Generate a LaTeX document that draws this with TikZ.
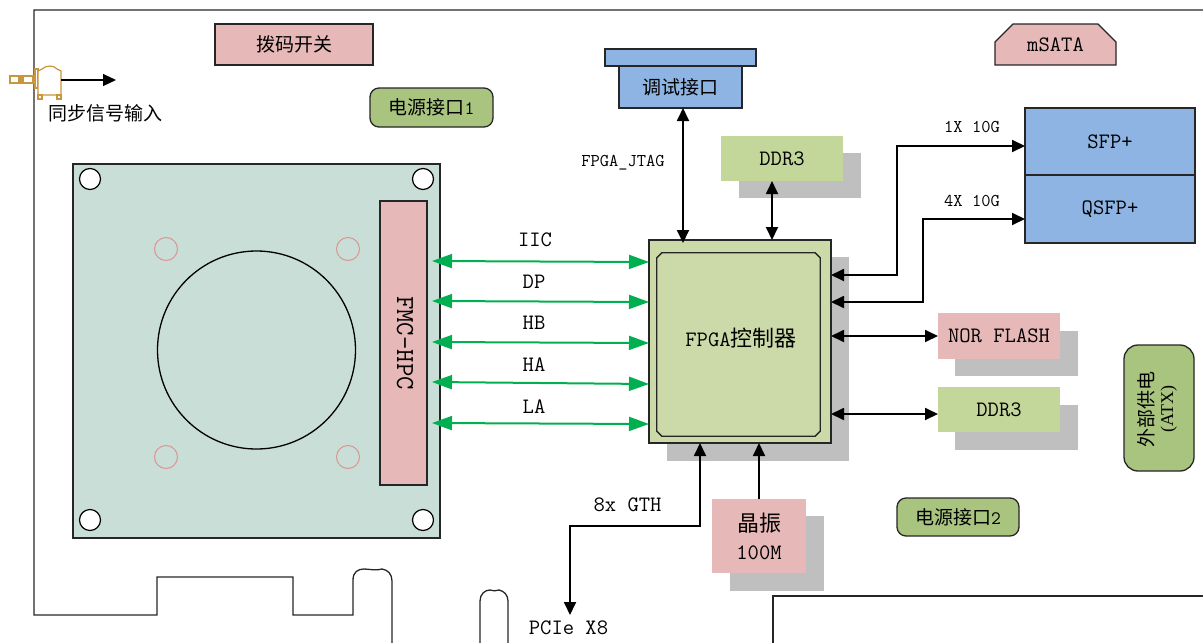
\documentclass[tikz,border=0pt]{standalone}
\usepackage{fontspec}
\setmainfont{Liberation Serif}
\newfontfamily\cjk{Noto Sans CJK SC}
\usetikzlibrary{arrows.meta,shapes.misc}
\definecolor{pinkf}{HTML}{E6B8B7}
\definecolor{greenf}{HTML}{C4D79B}
\definecolor{fpgaf}{HTML}{CCD9A8}
\definecolor{bluef}{HTML}{8DB4E2}
\definecolor{padf}{HTML}{A9C47F}
\definecolor{boardf}{HTML}{C9DED6}
\definecolor{shadowf}{HTML}{BFBFBF}
\definecolor{linec}{HTML}{262626}
\definecolor{goldc}{HTML}{C8963C}
\definecolor{ringc}{HTML}{D99694}
\definecolor{greenl}{HTML}{00B050}
\tikzset{
  x=1pt,y=-1pt,
  big/.style={font=\fontsize{22}{25}\selectfont\ttfamily},
  small/.style={font=\fontsize{19}{22}\selectfont\ttfamily},
  outl/.style={draw=linec,line width=1.3pt,inner sep=0pt,big},
  fl/.style={outl,draw=none},
  shadowbox/.style={fill=shadowf,draw=none,inner sep=0pt},
  padbox/.style={outl,fill=padf,rounded corners=9pt,small},
  arr/.style={black,line width=1.8pt,-{Triangle[length=13pt,width=12pt]}},
  barr/.style={black,line width=1.8pt,{Triangle[length=13pt,width=12pt]}-{Triangle[length=13pt,width=12pt]}},
  garr/.style={greenl,line width=2pt,{Triangle[length=20pt,width=14pt]}-{Triangle[length=20pt,width=14pt]}},
  lab/.style={inner sep=0pt,big},
  slab/.style={inner sep=0pt,font=\fontsize{18}{20}\selectfont\ttfamily},
  board/.style={draw=linec,line width=1.3pt},
  hole/.style={circle,draw=black,fill=white,line width=1.2pt,minimum size=21pt,inner sep=0pt},
  ring/.style={circle,draw=ringc,line width=1pt,minimum size=23pt,inner sep=0pt},
  gold/.style={draw=goldc,line width=1.2pt,fill=white},
}
\begin{document}
\begin{tikzpicture}
\useasboundingbox (0,0) rectangle (1203,643);
% board outline
\draw[board] (1203,10) -- (34,10) -- (34,615) -- (157,615) -- (157,577) -- (293,577) -- (293,615) -- (353,615) -- (353,580)
  .. controls (353,572) and (358,569) .. (364,569) .. controls (369,569) and (376,571) .. (382,569) .. controls (388,570) and (392,574) .. (392,581) -- (392,643);
\draw[board] (480,643) -- (480,601) .. controls (480,594) and (485,590) .. (490,590) .. controls (494,591) and (496,591) .. (499,590) .. controls (504,591) and (508,595) .. (508,601) -- (508,643);
\draw[board] (773,643) -- (773,596) -- (1203,596);
% shadows
\node[shadowbox,minimum width=182pt,minimum height=204pt] (sfpga) at (758,359) {};
\node[shadowbox,minimum width=122pt,minimum height=45pt] (sddr1) at (800,175.5) {};
\node[shadowbox,minimum width=123pt,minimum height=45pt] (snor) at (1016.5,353.5) {};
\node[shadowbox,minimum width=123pt,minimum height=45pt] (sddr2) at (1016.5,427.5) {};
\node[shadowbox,minimum width=94pt,minimum height=75pt] (sosc) at (777,553.5) {};
% FMC card
\node[draw=linec,fill=boardf,line width=1.3pt,inner sep=0pt,minimum width=367pt,minimum height=374pt] (card) at (256.5,351) {};
\foreach \n/\x/\y in {ha/90/179,hb/423/179,hc/90/520,hd/423/520} \node[hole] (\n) at (\x,\y) {};
\foreach \n/\x/\y in {ra/166/249,rb/348/249,rc/166/457,rd/348/457} \node[ring] (\n) at (\x,\y) {};
\node[circle,draw=black,line width=1.3pt,minimum size=198pt,inner sep=0pt] (lens) at (256.5,350) {};
\node[outl,fill=pinkf,minimum width=47pt,minimum height=284pt] (fmc) at (403.5,343) {};
\node[inner sep=0pt,font=\fontsize{26}{28}\selectfont\ttfamily,rotate=-90] (fmct) at (405,343) {FMC-HPC};
% top boxes
\node[outl,fill=pinkf,minimum width=158pt,minimum height=41pt,small] (dip) at (294,44.5) {{\cjk 拨码开关}};
\node[padbox,minimum width=123pt,minimum height=39pt] (pw1) at (431.5,107.5) {{\cjk 电源接口}1};
\node[padbox,minimum width=122pt,minimum height=38pt] (pw2) at (958,517) {{\cjk 电源接口}2};
\node[outl,fill=bluef,minimum width=151pt,minimum height=17pt] (dbgtop) at (680.5,57.5) {};
\node[outl,fill=bluef,minimum width=123pt,minimum height=42pt,small] (dbg) at (680.5,87) {{\cjk 调试接口}};
\node[outl,fill=pinkf,chamfered rectangle,chamfered rectangle corners={north west,north east},chamfered rectangle xsep=11pt,chamfered rectangle ysep=11pt,minimum width=121pt,minimum height=41pt] (msata) at (1055.5,44.5) {mSATA};
\node[fl,fill=greenf,minimum width=122pt,minimum height=45pt] (ddra) at (782,158.5) {DDR3};
\node[outl,fill=bluef,minimum width=170pt,minimum height=67pt] (sfp) at (1110,141.5) {SFP+};
\node[outl,fill=bluef,minimum width=170pt,minimum height=68pt] (qsfp) at (1110,209) {QSFP+};
% FPGA
\node[outl,fill=fpgaf,minimum width=182pt,minimum height=203pt] (fpga) at (740,341.5) {};
\node[inner sep=0pt,minimum width=163pt,minimum height=183pt] (fpgain) at (738.5,344.5) {};
\draw[linec,line width=1.3pt] ([xshift=5pt]fpgain.north west) -- ([xshift=-5pt]fpgain.north east) -- ([yshift=-5pt]fpgain.north east) -- ([yshift=5pt]fpgain.south east) -- ([xshift=-5pt]fpgain.south east) -- ([xshift=5pt]fpgain.south west) -- ([yshift=5pt]fpgain.south west) -- ([yshift=-5pt]fpgain.north west) -- cycle;
\node[lab] (fpgat) at (741,338) {FPGA{\cjk 控制器}};
% right boxes
\node[fl,fill=pinkf,minimum width=122pt,minimum height=46pt] (nor) at (999,336) {NOR FLASH};
\node[fl,fill=greenf,minimum width=122pt,minimum height=45pt] (ddrb) at (999,409.5) {DDR3};
\node[fl,fill=pinkf,minimum width=94pt,minimum height=74pt,align=center] (osc) at (759,536) {{\cjk 晶振}\\[3pt]100M};
\node[outl,fill=padf,rounded corners=14pt,minimum width=70pt,minimum height=126pt] (atx) at (1159,408) {};
\node[inner sep=0pt,rotate=90,align=center,font=\fontsize{19}{22}\selectfont] (atxt) at (1157,409) {{\cjk 外部供电}\\[-2pt]{\fontsize{18}{20}\selectfont(ATX)}};
% sync connector
\coordinate (synco) at (61,80);
\coordinate (syncend) at (116,80);
\draw[gold] (10,76) rectangle (33,83);
\draw[gold,fill=goldc] (19,76) rectangle (23,83);
\draw[gold] (35,69) rectangle (38,88);
\draw[gold] (38,71) -- (42,69) .. controls (46,65) and (54,65) .. (57,69) -- (61,71) -- (61,95) -- (38,95) -- cycle;
\draw[gold] (38,95) rectangle (42,99);
\draw[gold] (57,95) rectangle (61,99);
\draw[arr,line width=1.2pt] (synco) -- (syncend);
\node[small,inner sep=0pt] (synct) at (105.5,113) {{\cjk 同步信号输入}};
% green buses
\foreach \n/\a/\b/\lx/\ly/\t in {iic/261/262/535/240/IIC,dp/301/302/534/282/DP,hb/342/343/534/323/HB,ha/382/384/534/365/HA,la/423/424/534/407/LA}{
  \coordinate (\n L) at (432,\a);
  \coordinate (\n R) at (649,\b);
  \draw[garr] (\n L) -- (\n R);
  \node[lab] (\n T) at (\lx,\ly) {\t};
}
% black connectors
\coordinate (jt) at (683,108); \coordinate (jb) at (683,243);
\draw[barr] (jt) -- (jb);
\node[slab] (jtag) at (623,163) {FPGA\_JTAG};
\coordinate (dt) at (772,181); \coordinate (db) at (772,240);
\draw[barr] (dt) -- (db);
\coordinate (sa) at (1025,146); \coordinate (sb) at (831,275);
\draw[barr] (sa) -- (897,146) -- (897,275) -- (sb);
\node[slab] (sl) at (972,127) {1X 10G};
\coordinate (qa) at (1025,219); \coordinate (qb) at (831,302);
\draw[barr] (qa) -- (923,219) -- (923,302) -- (qb);
\node[slab] (ql) at (972,201) {4X 10G};
\coordinate (na) at (831,336); \coordinate (nb) at (938,336);
\draw[barr] (na) -- (nb);
\coordinate (ea) at (831,414); \coordinate (eb) at (938,414);
\draw[barr] (ea) -- (eb);
\coordinate (oa) at (759,499); \coordinate (ob) at (759,443);
\draw[arr] (oa) -- (ob);
\coordinate (ga) at (700,443); \coordinate (gb) at (570,615);
\draw[barr] (ga) -- (700,526) -- (570,526) -- (gb);
\node[lab] (gth) at (627.5,505) {8x GTH};
\node[lab] (pcie) at (568.5,628) {PCIe X8};
\end{tikzpicture}
\end{document}
